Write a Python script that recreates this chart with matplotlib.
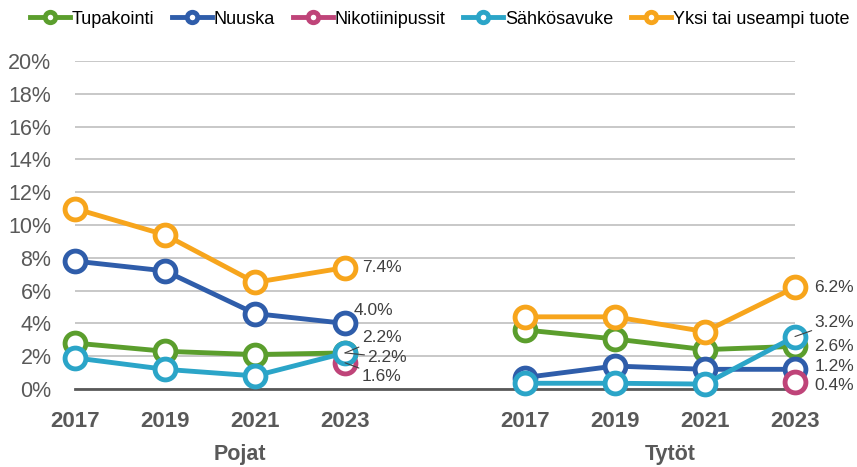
import matplotlib
matplotlib.use("Agg")
import matplotlib.pyplot as plt
from matplotlib import font_manager
import numpy as np

# Kategoriat: pojat ja tytöt, välissä tyhjä sarake
years = ["2017", "2019", "2021", "2023"]
groups = ["Pojat", "Tytöt"]

tupakointi_p = [2.8, 2.3, 2.1, 2.2]
tupakointi_t = [3.6, 3.05, 2.4, 2.6]
nuuska_p = [7.8, 7.2, 4.6, 4.0]
nuuska_t = [0.7, 1.4, 1.2, 1.2]
nikotiini_p = [None, None, None, 1.6]
nikotiini_t = [None, None, None, 0.4]
sahko_p = [1.9, 1.2, 0.8, 2.2]
sahko_t = [0.35, 0.35, 0.3, 3.2]
yksi_p = [11.0, 9.4, 6.5, 7.4]
yksi_t = [4.4, 4.4, 3.5, 6.2]

series = [
    ("Tupakointi", tupakointi_p, tupakointi_t, "#5B9E2D"),
    ("Nuuska", nuuska_p, nuuska_t, "#2F5DAA"),
    ("Nikotiinipussit", nikotiini_p, nikotiini_t, "#BF4479"),
    ("Sähkösavuke", sahko_p, sahko_t, "#2BA5C8"),
    ("Yksi tai useampi tuote", yksi_p, yksi_t, "#F7A51C"),
]

names = {f.name for f in font_manager.fontManager.ttflist}
narrow = "Liberation Sans Narrow" if "Liberation Sans Narrow" in names else "Liberation Sans"


def main():
    fig = plt.figure(figsize=(8.57, 4.67), dpi=100)
    ax = fig.add_axes([75 / 857, 1 - 389 / 467, 720 / 857, 328 / 467])

    x_p = np.arange(4)
    x_t = np.arange(4) + 5

    for name, vp, vt, col in series:
        vp = np.array([np.nan if v is None else v for v in vp]) / 100
        vt = np.array([np.nan if v is None else v for v in vt]) / 100
        style = dict(color=col, lw=3.5, marker="o", ms=15, mfc="white",
                     mec=col, mew=3.5, clip_on=False, zorder=3)
        ax.plot(x_p, vp, label=name, **style)
        ax.plot(x_t, vt, **style)

    # Arvolabelit viimeiselle vuodelle
    lab = dict(fontsize=12.5, color="#404040", family=narrow,
               textcoords="offset points", va="center", ha="left")
    leader = dict(arrowstyle="-", color="#404040", lw=0.8, shrinkA=0, shrinkB=0)
    ax.annotate("7.4%", (3, yksi_p[3] / 100), xytext=(12, 0), **lab)
    ax.annotate("4.0%", (3, nuuska_p[3] / 100), xytext=(6, 9), **lab)
    ax.annotate("2.2%", (3, tupakointi_p[3] / 100), xytext=(12, 11),
                arrowprops=leader, **lab)
    ax.annotate("2.2%", (3, sahko_p[3] / 100), xytext=(16, -3),
                arrowprops=leader, **lab)
    ax.annotate("1.6%", (3, nikotiini_p[3] / 100), xytext=(12, -10),
                arrowprops=leader, **lab)
    ax.annotate("6.2%", (8, yksi_t[3] / 100), xytext=(14, 0), **lab)
    ax.annotate("3.2%", (8, sahko_t[3] / 100), xytext=(14, 10),
                arrowprops=leader, **lab)
    ax.annotate("2.6%", (8, tupakointi_t[3] / 100), xytext=(14, 0), **lab)
    ax.annotate("1.2%", (8, nuuska_t[3] / 100), xytext=(14, 2), **lab)
    ax.annotate("0.4%", (8, nikotiini_t[3] / 100), xytext=(14, -2), **lab)

    ax.set_xlim(0, 8)
    ax.set_ylim(0, 0.20)
    ax.set_yticks(np.arange(0, 0.201, 0.02))
    ax.set_yticklabels([f"{int(round(v * 100))}%" for v in np.arange(0, 0.201, 0.02)],
                       fontsize=15.5, color="#595959", family="Liberation Sans")
    ax.set_xticks(list(x_p) + list(x_t))
    ax.set_xticklabels(years + years, fontsize=16, fontweight="bold",
                       color="#595959", family="Liberation Sans")
    ax.tick_params(axis="both", length=0)
    ax.tick_params(axis="y", pad=17)
    ax.tick_params(axis="x", pad=16)

    ax.grid(axis="y", color="#BFBFBF", lw=1.2, zorder=0)
    for s in ["top", "right", "left"]:
        ax.spines[s].set_visible(False)
    ax.spines["bottom"].set_color("#595959")
    ax.spines["bottom"].set_linewidth(2)

    # Ryhmien nimet
    for gx, g in zip([1.83, 6.61], groups):
        ax.text(gx, -0.168, g, transform=ax.get_xaxis_transform(), ha="center",
                va="top", fontsize=15.5, fontweight="bold", color="#595959",
                family="Liberation Sans")

    fig.legend(loc="upper center", bbox_to_anchor=(0.513, 1.012), ncol=5,
               frameon=False, prop={"family": narrow, "size": 13},
               handlelength=2.2, handletextpad=0.1, columnspacing=1.0,
               markerscale=0.5)

    fig.savefig("out.png", dpi=100)


if __name__ == "__main__":
    main()
